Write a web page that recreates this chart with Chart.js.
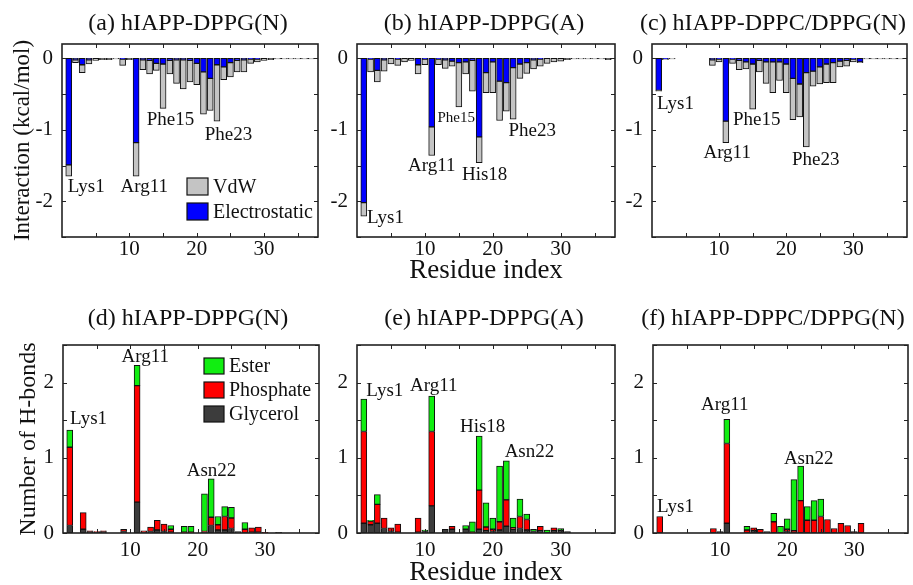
<!DOCTYPE html>
<html>
<head>
<meta charset="utf-8">
<script src="https://cdn.jsdelivr.net/npm/chart.js@4.4.1/dist/chart.umd.min.js"></script>
<style>
html, body { margin: 0; padding: 0; background: #fff; overflow: hidden; }
#wrap { position: relative; width: 913px; height: 585px; overflow: hidden; }
canvas { position: absolute; }
</style>
</head>
<body>
<div id="wrap">
  <canvas id="pa" width="376" height="290" style="left:0px;top:0px"></canvas>
  <canvas id="pb" width="318" height="290" style="left:325px;top:0px"></canvas>
  <canvas id="pc" width="306" height="290" style="left:620px;top:0px"></canvas>
  <canvas id="pd" width="376" height="295" style="left:0px;top:290px"></canvas>
  <canvas id="pe" width="318" height="295" style="left:325px;top:290px"></canvas>
  <canvas id="pf" width="306" height="295" style="left:620px;top:290px"></canvas>
</div>
<script>
// residue index of hIAPP
const residues = [1,2,3,4,5,6,7,8,9,10,11,12,13,14,15,16,17,18,19,20,21,22,23,24,25,26,27,28,29,30,31,32,33,34,35,36,37];

// tick positions (labels shown only on whole numbers / tens)
const residueTicks = [5, 10, 15, 20, 25, 30, 35];
const energyTicks = [-2.5, -2, -1.5, -1, -0.5, 0];
const hbondTicks = [0, 0.5, 1, 1.5, 2, 2.5];

// interaction energies (kcal/mol)
const elecA = [-1.49,-0.02,-0.09,-0.02,0,0,0,0,-0.01,0,-1.18,-0.02,-0.03,-0.07,-0.08,-0.03,-0.02,-0.02,-0.03,-0.07,-0.19,-0.28,-0.09,-0.12,-0.06,-0.03,-0.02,-0.01,-0.01,0,0,0,0,0,0,0,0];
const vdwA  = [-0.16,-0.04,-0.11,-0.06,-0.03,-0.02,-0.02,-0.01,-0.09,-0.02,-0.47,-0.14,-0.19,-0.10,-0.62,-0.19,-0.33,-0.41,-0.30,-0.30,-0.59,-0.45,-0.79,-0.18,-0.20,-0.16,-0.17,-0.06,-0.04,-0.03,-0.02,-0.01,-0.01,-0.01,-0.01,-0.01,-0.01];
const elecB = [-2.02,-0.01,-0.17,-0.02,0,-0.01,0,0,-0.09,-0.01,-0.96,-0.01,-0.02,-0.04,-0.06,-0.05,-0.03,-1.10,-0.20,-0.05,-0.32,-0.34,-0.13,-0.08,-0.06,-0.02,-0.01,0,0,0,0,0,0,0,0,0,0];
const vdwB  = [-0.19,-0.18,-0.16,-0.16,-0.08,-0.09,-0.05,-0.03,-0.13,-0.08,-0.40,-0.08,-0.12,-0.07,-0.62,-0.17,-0.43,-0.36,-0.28,-0.43,-0.55,-0.40,-0.72,-0.20,-0.15,-0.13,-0.10,-0.07,-0.05,-0.04,-0.02,-0.01,-0.01,-0.01,-0.01,-0.01,-0.02];
const elecC = [-0.45,-0.01,0,0,0,0,0,0,-0.02,-0.01,-0.88,-0.01,-0.03,-0.05,-0.08,-0.03,-0.05,-0.05,-0.05,-0.08,-0.28,-0.36,-0.20,-0.18,-0.12,-0.08,-0.06,-0.04,-0.03,-0.01,-0.05,0,0,0,0,0,0];
const vdwC  = [-0.01,-0.01,-0.01,0,0,0,0,0,-0.08,-0.04,-0.30,-0.06,-0.13,-0.10,-0.63,-0.16,-0.30,-0.43,-0.26,-0.40,-0.58,-0.46,-1.04,-0.21,-0.24,-0.26,-0.28,-0.08,-0.08,-0.04,-0.01,-0.01,-0.01,-0.01,-0.01,-0.01,-0.01];

// number of H-bonds per lipid group
const glyD   = [0.10,0,0.05,0.02,0.01,0.02,0,0,0.02,0,0.41,0.01,0.02,0.04,0.02,0.01,0,0,0,0,0.01,0.10,0.04,0.04,0.06,0.02,0,0.01,0.01,0,0,0.01,0,0,0,0,0];
const phosD  = [1.04,0,0.22,0.01,0.01,0.01,0,0,0.03,0,1.55,0.02,0.06,0.13,0.10,0.04,0,0.01,0.01,0,0.01,0.11,0.07,0.18,0.14,0,0.05,0.06,0.07,0.01,0,0,0,0,0,0,0];
const esterD = [0.23,0,0,0,0,0,0,0,0,0,0.27,0,0,0,0,0.05,0,0.08,0.08,0,0.50,0.51,0.11,0.13,0.14,0,0.09,0,0,0,0,0,0,0,0,0,0];
const glyE   = [0.13,0.11,0.13,0.06,0.02,0.01,0,0,0.01,0.02,0.36,0,0.05,0.05,0,0.05,0,0.05,0.03,0.02,0.04,0.09,0.05,0.06,0.04,0.02,0.03,0,0.03,0.03,0.02,0,0,0,0,0,0];
const phosE  = [1.22,0.05,0.25,0.14,0.05,0.11,0,0,0.19,0,0.99,0,0,0.04,0,0,0.01,0.52,0.05,0.03,0.11,0.35,0.02,0.16,0.14,0,0.06,0,0.04,0,0,0,0,0,0,0,0];
const esterE = [0.43,0.01,0.13,0,0,0,0,0,0,0.02,0.47,0,0,0,0,0.05,0.14,0.72,0.32,0.15,0.74,0.52,0.13,0.23,0.07,0.03,0,0.04,0,0.03,0,0,0,0,0,0,0];
const glyF   = [0,0,0,0,0,0,0,0,0,0.02,0.13,0,0,0,0.03,0,0.02,0,0,0.02,0,0,0,0,0,0,0,0,0,0,0,0,0,0,0,0,0];
const phosF  = [0.22,0,0,0,0,0,0,0,0.06,0,1.06,0,0,0.04,0.04,0.05,0,0.15,0,0.03,0.03,0.43,0.17,0.17,0.22,0.18,0.06,0.13,0.10,0.02,0.13,0,0,0,0,0,0];
const esterF = [0,0,0,0,0,0,0,0,0,0,0.32,0,0,0.05,0,0,0,0.11,0.09,0.14,0.68,0.46,0.18,0.26,0.23,0,0,0,0,0,0,0,0,0,0,0,0];

const serif = "'Liberation Serif', 'Times New Roman', Times, serif";
const ink = '#111';

// frame, inward ticks, residue labels and the inset legend
const decor = {
  id: 'decor',
  afterDatasetsDraw(chart, args, opts) {
    const { ctx, chartArea: a, scales: { x, y } } = chart;
    ctx.save();
    ctx.strokeStyle = '#222';
    ctx.lineWidth = 1;
    ctx.beginPath();
    x.ticks.forEach(t => {
      const px = Math.round(x.getPixelForValue(t.value)) + 0.5;
      ctx.moveTo(px, a.bottom); ctx.lineTo(px, a.bottom - 4);
      ctx.moveTo(px, a.top); ctx.lineTo(px, a.top + 4);
    });
    y.ticks.forEach(t => {
      const py = Math.round(y.getPixelForValue(t.value)) + 0.5;
      ctx.moveTo(a.left, py); ctx.lineTo(a.left + 4, py);
      ctx.moveTo(a.right, py); ctx.lineTo(a.right - 4, py);
    });
    ctx.stroke();
    ctx.lineWidth = 1.6;
    ctx.strokeRect(a.left, a.top, a.right - a.left, a.bottom - a.top);

    ctx.fillStyle = ink;
    ctx.textAlign = 'center';
    ctx.textBaseline = 'middle';
    (opts.notes || []).forEach(n => {
      ctx.font = (n.size || 19) + 'px ' + serif;
      ctx.fillText(n.text, x.getPixelForValue(n.x), y.getPixelForValue(n.y));
    });

    const lg = opts.legend;
    if (lg) {
      ctx.textAlign = 'left';
      ctx.font = '20px ' + serif;
      const items = chart.data.datasets.slice().reverse();
      items.forEach((ds, i) => {
        const bx = a.left + lg.dx, by = a.top + lg.dy + i * lg.step;
        ctx.fillStyle = ds.backgroundColor;
        ctx.fillRect(bx, by, lg.w, lg.h);
        ctx.strokeStyle = ink;
        ctx.lineWidth = 1.2;
        ctx.strokeRect(bx, by, lg.w, lg.h);
        ctx.fillStyle = ink;
        ctx.fillText(ds.label, bx + lg.w + 5, by + lg.h / 2 + 1);
      });
    }
    ctx.restore();
  }
};

function pts(vals) {
  return residues.map((r, i) => ({ x: r, y: vals[i] }));
}

function makePanel(id, p) {
  new Chart(document.getElementById(id), {
    type: 'bar',
    data: {
      datasets: p.series.map(s => ({
        label: s.label, data: pts(s.values), backgroundColor: s.color, stack: 'all'
      }))
    },
    plugins: [decor],
    options: {
      responsive: false,
      animation: false,
      events: [],
      layout: { padding: 0 },
      datasets: {
        bar: { barThickness: 6, borderColor: ink, borderWidth: 1, borderSkipped: false }
      },
      plugins: {
        legend: { display: false },
        tooltip: { enabled: false },
        title: {
          display: true, text: p.title, color: ink,
          font: { family: serif, size: 24, weight: 'normal', lineHeight: 1.25 },
          padding: p.titlePad
        },
        decor: { notes: p.notes, legend: p.legend }
      },
      scales: {
        x: {
          type: 'linear', min: 0, max: 38, stacked: true, offset: false,
          grid: { display: false, drawTicks: false },
          border: { display: false },
          ticks: {
            autoSkip: false, maxRotation: 0, padding: p.xPad, color: ink,
            font: { family: serif, size: 21 },
            callback: v => (v % 10 === 0 ? String(v) : '')
          },
          afterBuildTicks: s => { s.ticks = residueTicks.map(v => ({ value: v })); },
          afterFit: s => { s.height = p.xh; s.paddingLeft = 0; s.paddingRight = 0; },
          title: {
            display: !!p.xTitle, text: p.xTitle || '', color: ink,
            font: { family: serif, size: 27, lineHeight: 0.9 },
            padding: { top: 0, bottom: p.xTitlePad || 0 }
          }
        },
        y: {
          min: p.ymin, max: p.ymax, stacked: true,
          grid: { display: false, drawTicks: false },
          border: { display: false },
          ticks: {
            padding: 9, color: ink,
            font: { family: serif, size: 21 },
            callback: v => (Math.abs(v - Math.round(v)) < 1e-6 ? String(Math.round(v)) : '')
          },
          afterBuildTicks: s => { s.ticks = p.yTicks.map(v => ({ value: v })); },
          afterFit: s => { s.width = p.yw; s.paddingTop = 0; s.paddingBottom = 0; },
          title: {
            display: !!p.yTitle, text: p.yTitle || '', color: ink,
            font: { family: serif, size: p.yTitleSize || 23, lineHeight: 1.2 },
            padding: { top: p.yTitlePad || 0, bottom: 0 }
          }
        },
        // empty right-hand box so the title stays centred on the canvas
        gap: {
          type: 'linear', position: 'right', display: true,
          grid: { display: false, drawTicks: false },
          border: { display: false },
          ticks: { display: false },
          afterFit: s => { s.width = p.padR; }
        }
      }
    }
  });
}

const energy = (elec, vdw) => [
  { label: 'Electrostatic', values: elec, color: '#0000ff' },
  { label: 'VdW', values: vdw, color: '#c4c4c4' }
];
const hbonds = (gly, phos, ester) => [
  { label: 'Glycerol', values: gly, color: '#3c3c3c' },
  { label: 'Phosphate', values: phos, color: '#ff0000' },
  { label: 'Ester', values: ester, color: '#11ee11' }
];

const topRow = { ymin: -2.5, ymax: 0.2, yTicks: energyTicks, xh: 53, xPad: 0, titlePad: { top: 9, bottom: 5 } };
const botRow = { ymin: 0, ymax: 2.5, yTicks: hbondTicks, xh: 52, xPad: 5, titlePad: { top: 14, bottom: 11 } };

makePanel('pa', Object.assign({}, topRow, {
  title: '(a) hIAPP-DPPG(N)', series: energy(elecA, vdwA), yw: 62, padR: 58,
  yTitle: 'Interaction (kcal/mol)', yTitlePad: 9, yTitleSize: 23,
  legend: { dx: 125, dy: 134, step: 25, w: 21, h: 17 },
  notes: [
    { text: 'Lys1', x: 3.6, y: -1.8 }, { text: 'Arg11', x: 12.2, y: -1.8 },
    { text: 'Phe15', x: 16.1, y: -0.87 }, { text: 'Phe23', x: 24.7, y: -1.08 }
  ]
}));
makePanel('pb', Object.assign({}, topRow, {
  title: '(b) hIAPP-DPPG(A)', series: energy(elecB, vdwB), yw: 32, padR: 28,
  xTitle: 'Residue index', xTitlePad: 7,
  notes: [
    { text: 'Lys1', x: 4.2, y: -2.23 }, { text: 'Arg11', x: 11.0, y: -1.5 },
    { text: 'Phe15', x: 14.6, y: -0.84, size: 15 }, { text: 'His18', x: 18.8, y: -1.63 },
    { text: 'Phe23', x: 25.8, y: -1.02 }
  ]
}));
makePanel('pc', Object.assign({}, topRow, {
  title: '(c) hIAPP-DPPC/DPPG(N)', series: energy(elecC, vdwC), yw: 32, padR: 19,
  notes: [
    { text: 'Lys1', x: 3.5, y: -0.64 }, { text: 'Arg11', x: 11.2, y: -1.33 },
    { text: 'Phe15', x: 15.6, y: -0.87 }, { text: 'Phe23', x: 24.4, y: -1.43 }
  ]
}));
makePanel('pd', Object.assign({}, botRow, {
  title: '(d) hIAPP-DPPG(N)', series: hbonds(glyD, phosD, esterD), yw: 63, padR: 57,
  yTitle: 'Number of H-bonds', yTitlePad: 14, yTitleSize: 24,
  legend: { dx: 141, dy: 13, step: 24, w: 20, h: 16 },
  notes: [
    { text: 'Lys1', x: 3.8, y: 1.51 }, { text: 'Arg11', x: 12.2, y: 2.34 },
    { text: 'Asn22', x: 22.05, y: 0.83 }
  ]
}));
makePanel('pe', Object.assign({}, botRow, {
  title: '(e) hIAPP-DPPG(A)', series: hbonds(glyE, phosE, esterE), yw: 32, padR: 28,
  xTitle: 'Residue index', xTitlePad: 0,
  notes: [
    { text: 'Lys1', x: 4.1, y: 1.89 }, { text: 'Arg11', x: 11.3, y: 1.96 },
    { text: 'His18', x: 18.5, y: 1.41 }, { text: 'Asn22', x: 25.4, y: 1.08 }
  ]
}));
makePanel('pf', Object.assign({}, botRow, {
  title: '(f) hIAPP-DPPC/DPPG(N)', series: hbonds(glyF, phosF, esterF), yw: 33, padR: 18,
  notes: [
    { text: 'Lys1', x: 3.35, y: 0.34 }, { text: 'Arg11', x: 10.7, y: 1.7 },
    { text: 'Asn22', x: 23.2, y: 0.99 }
  ]
}));
</script>
</body>
</html>
